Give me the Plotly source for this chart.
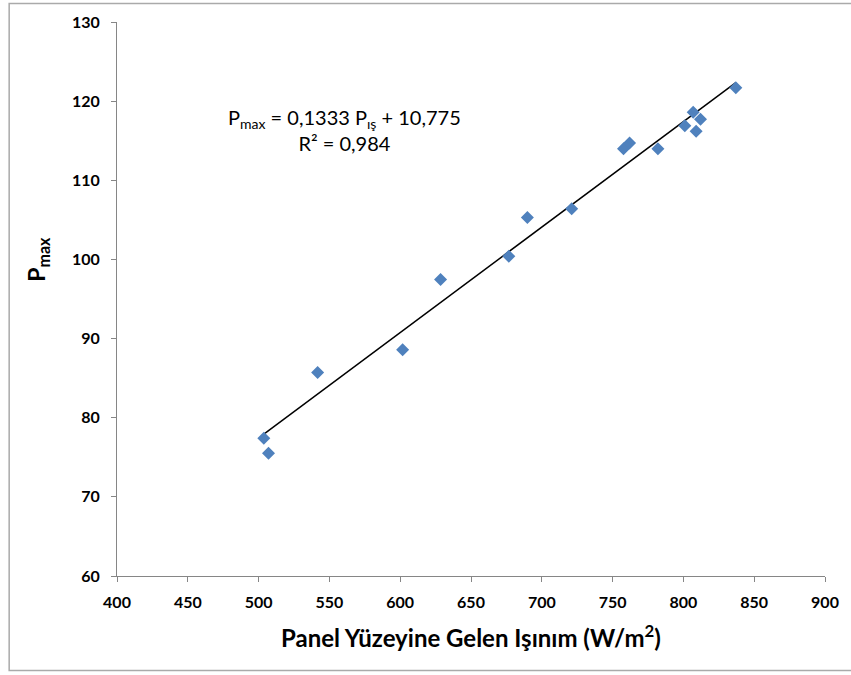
import plotly.graph_objects as go

irradiance = [503.7, 507.0, 541.7, 601.7, 628.5, 676.7, 689.8, 721.1, 757.7, 762.0,
              782.0, 801.0, 806.9, 809.0, 812.1, 837.0]
pmax = [77.4, 75.5, 85.7, 88.6, 97.45, 100.4, 105.3, 106.4, 114.0, 114.7,
        114.0, 116.9, 118.6, 116.2, 117.7, 121.7]
slope = 0.1333
intercept = 10.775
x_ticks = [400, 450, 500, 550, 600, 650, 700, 750, 800, 850, 900]
y_ticks = [60, 70, 80, 90, 100, 110, 120, 130]

x_line = [min(irradiance), max(irradiance)]
y_line = [slope * v + intercept for v in x_line]

fig = go.Figure()
fig.add_trace(go.Scatter(x=x_line, y=y_line, mode="lines",
                         line=dict(color="black", width=1.5), hoverinfo="skip"))
fig.add_trace(go.Scatter(x=irradiance, y=pmax, mode="markers",
                         marker=dict(symbol="diamond", size=10, color="#4F81BD",
                                     line=dict(width=0))))

FAM = "Lato, 'Open Sans', sans-serif"
axis_font = dict(family=FAM, size=16, color="black", weight="bold")
fig.update_layout(
    width=851, height=675,
    margin=dict(l=117, r=25, t=19, b=99),
    paper_bgcolor="white", plot_bgcolor="white",
    showlegend=False,
    xaxis=dict(range=[400, 900], tickvals=x_ticks, showgrid=False, zeroline=False,
               showline=True, linecolor="#868686", linewidth=1,
               ticks="outside", ticklen=5, tickcolor="#868686",
               ticklabelstandoff=7, tickfont=axis_font),
    yaxis=dict(range=[60, 130], tickvals=y_ticks, showgrid=False, zeroline=False,
               showline=True, linecolor="#868686", linewidth=1,
               ticks="outside", ticklen=5, tickcolor="#868686",
               ticklabelstandoff=8, tickfont=axis_font),
    shapes=[dict(type="rect", xref="paper", yref="paper",
                 x0=-0.1523, x1=1.04, y0=-0.1706, y1=1.0332,
                 line=dict(color="#AAAAAA", width=1.5), fillcolor="rgba(0,0,0,0)")],
    annotations=[
        dict(text="P<sub>max</sub> = 0,1333 P<sub>ış</sub> + 10,775<br>R² = 0,984",
             x=560.8, y=116.3, xref="x", yref="y", showarrow=False,
             font=dict(family=FAM, size=20, color="black"),
             align="center"),
        dict(text="Panel Yüzeyine Gelen Işınım (W/m<sup>2</sup>)",
             x=0.5007, y=-0.1077, xref="paper", yref="paper", showarrow=False,
             xanchor="center", yanchor="middle",
             font=dict(family=FAM, size=24, color="black", weight="bold")),
        dict(text="P<sub>max</sub>", textangle=-90,
             x=-0.1114, y=0.571, xref="paper", yref="paper", showarrow=False,
             xanchor="center", yanchor="middle",
             font=dict(family=FAM, size=23, color="black", weight="bold")),
    ],
)
fig.write_html("out.html")
